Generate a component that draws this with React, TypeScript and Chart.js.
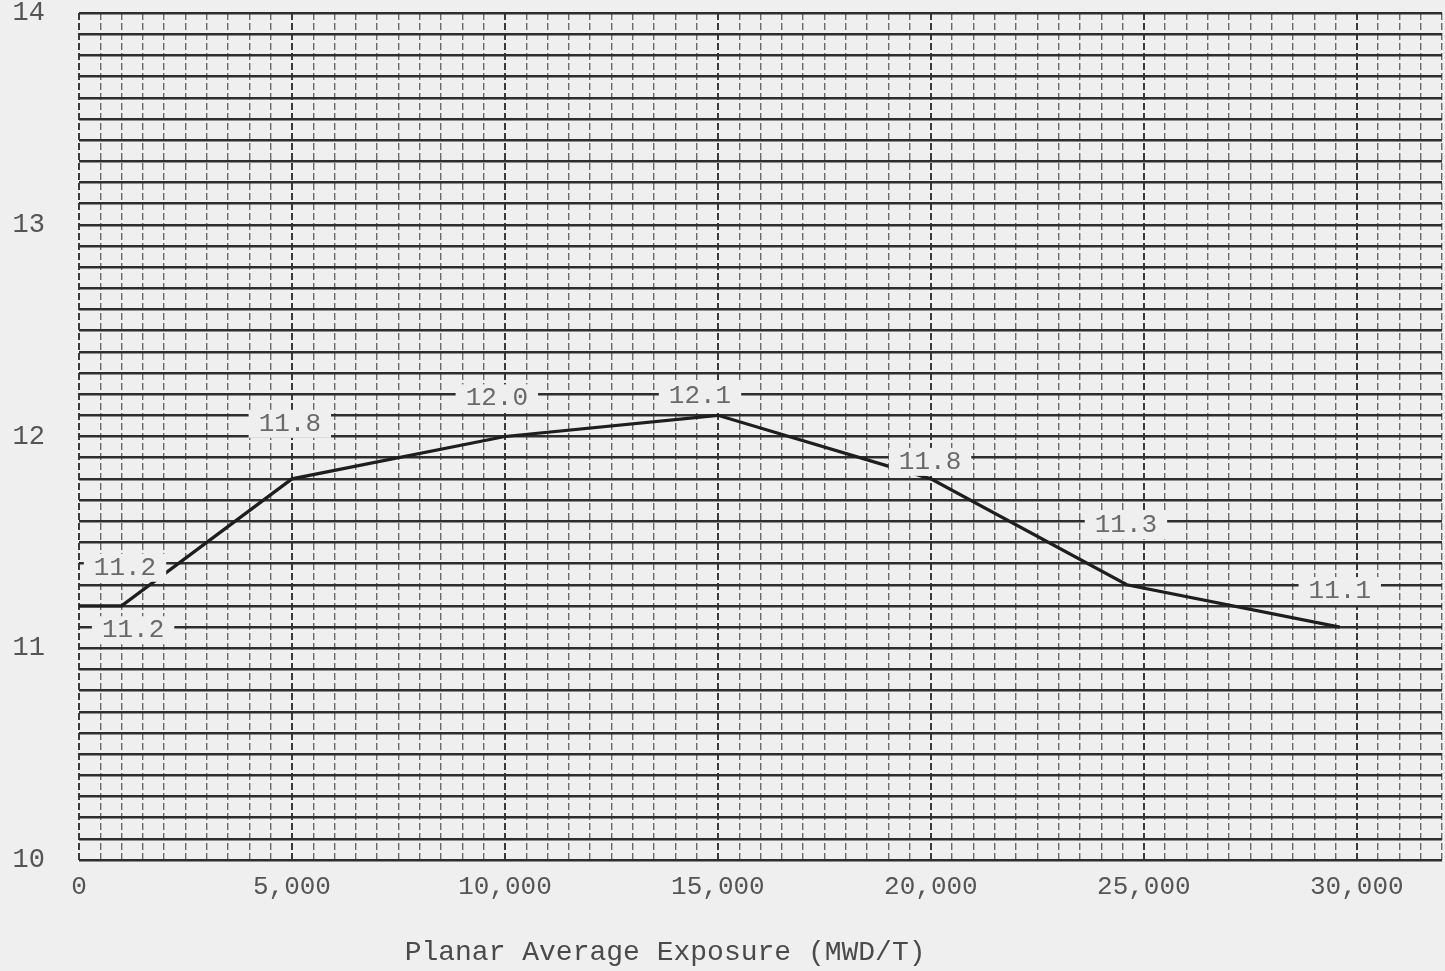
import React, { useEffect, useRef } from 'react';
import { Chart, registerables } from 'chart.js';

Chart.register(...registerables);

// Planar average exposure (MWD/T) and the plotted limit values
const exposure = [0, 1000, 5000, 10000, 15000, 20000, 24600, 29600];
const limitValues = [11.2, 11.2, 11.8, 12.0, 12.1, 11.8, 11.3, 11.1];

// Typed value annotations placed on the graph paper (data coordinates)
const noteX = [1080, 1270, 4950, 9810, 14580, 19980, 24580, 29600];
const noteY = [11.38, 11.085, 12.06, 12.18, 12.19, 11.88, 11.58, 11.27];
const noteText = ['11.2', '11.2', '11.8', '12.0', '12.1', '11.8', '11.3', '11.1'];

// Axis ranges / labelled ticks
const xMin = 0;
const xMax = 32000;
const xGridStep = 500;
const xLabelStep = 5000;
const yMin = 10;
const yMax = 14;
const yGridStep = 0.1;
const xTitle = 'Planar Average Exposure (MWD/T)';

const PAPER = '#efefef';
const MONO = '"Liberation Mono", "DejaVu Sans Mono", monospace';

export default function App() {
  const ref = useRef<HTMLCanvasElement | null>(null);

  useEffect(() => {
    if (!ref.current) return;

    const paperPlugin = {
      id: 'paper',
      beforeDraw(chart: any) {
        const { ctx, width, height } = chart;
        ctx.save();
        ctx.fillStyle = PAPER;
        ctx.fillRect(0, 0, width, height);
        ctx.restore();
      },
    };

    const notesPlugin = {
      id: 'notes',
      afterDatasetsDraw(chart: any) {
        const { ctx, scales, chartArea } = chart;
        ctx.save();
        ctx.font = `26px ${MONO}`;
        ctx.textAlign = 'center';
        ctx.textBaseline = 'middle';
        for (let i = 0; i < noteText.length; i++) {
          const px = scales.x.getPixelForValue(noteX[i]);
          const py = scales.y.getPixelForValue(noteY[i]);
          const w = ctx.measureText(noteText[i]).width;
          ctx.fillStyle = PAPER;
          ctx.fillRect(px - w / 2 - 10, py - 14, w + 20, 28);
          ctx.fillStyle = '#6a6a6a';
          ctx.fillText(noteText[i], px, py);
        }
        // axis title
        ctx.font = `28px ${MONO}`;
        ctx.fillStyle = '#4a4a4a';
        const tx = chartArea.left + (chartArea.right - chartArea.left) * 0.43;
        ctx.fillText(xTitle, tx, chart.height - 18);
        ctx.restore();
      },
    };

    const chart = new Chart(ref.current, {
      type: 'line',
      data: {
        datasets: [
          {
            data: exposure.map((x, i) => ({ x, y: limitValues[i] })),
            borderColor: '#1e1e1e',
            borderWidth: 3.2,
            pointRadius: 0,
            tension: 0,
            fill: false,
          },
        ],
      },
      options: {
        responsive: false,
        animation: false,
        layout: { padding: { top: 13, right: 3, left: 0, bottom: 0 } },
        plugins: {
          legend: { display: false },
          tooltip: { enabled: false },
        },
        scales: {
          x: {
            type: 'linear',
            min: xMin,
            max: xMax,
            afterFit(scale: any) {
              scale.height = 111;
              scale.paddingLeft = 0;
              scale.paddingRight = 0;
            },
            grid: {
              color: (c: any) =>
                c.tick && c.tick.value % xLabelStep === 0 ? '#3a3a3a' : '#6a6a6a',
              lineWidth: (c: any) =>
                c.tick && c.tick.value % xLabelStep === 0 ? 2 : 1.4,
              drawTicks: false,
            },
            border: { display: false, dash: [7, 3] },
            ticks: {
              stepSize: xGridStep,
              autoSkip: false,
              maxRotation: 0,
              padding: 12,
              color: '#555555',
              font: { family: MONO, size: 26 },
              callback: (v: any) =>
                Number(v) % xLabelStep === 0 ? Number(v).toLocaleString('en-US') : '',
            },
          },
          y: {
            type: 'linear',
            min: yMin,
            max: yMax,
            afterFit(scale: any) {
              scale.width = 79;
              scale.paddingTop = 0;
              scale.paddingBottom = 0;
            },
            grid: {
              color: '#2e2e2e',
              lineWidth: 2.4,
              drawTicks: false,
            },
            border: { display: false },
            ticks: {
              stepSize: yGridStep,
              autoSkip: false,
              padding: 34,
              color: '#555555',
              font: { family: MONO, size: 27 },
              callback: (v: any) => {
                const n = Number(v);
                return Math.abs(n - Math.round(n)) < 1e-6 ? String(Math.round(n)) : '';
              },
            },
          },
        },
      },
      plugins: [paperPlugin, notesPlugin],
    });

    return () => chart.destroy();
  }, []);

  return (
    <div style={{ position: 'fixed', left: 0, top: 0, width: 1445, height: 971, background: PAPER }}>
      <canvas ref={ref} width={1445} height={971} style={{ display: 'block' }} />
    </div>
  );
}
